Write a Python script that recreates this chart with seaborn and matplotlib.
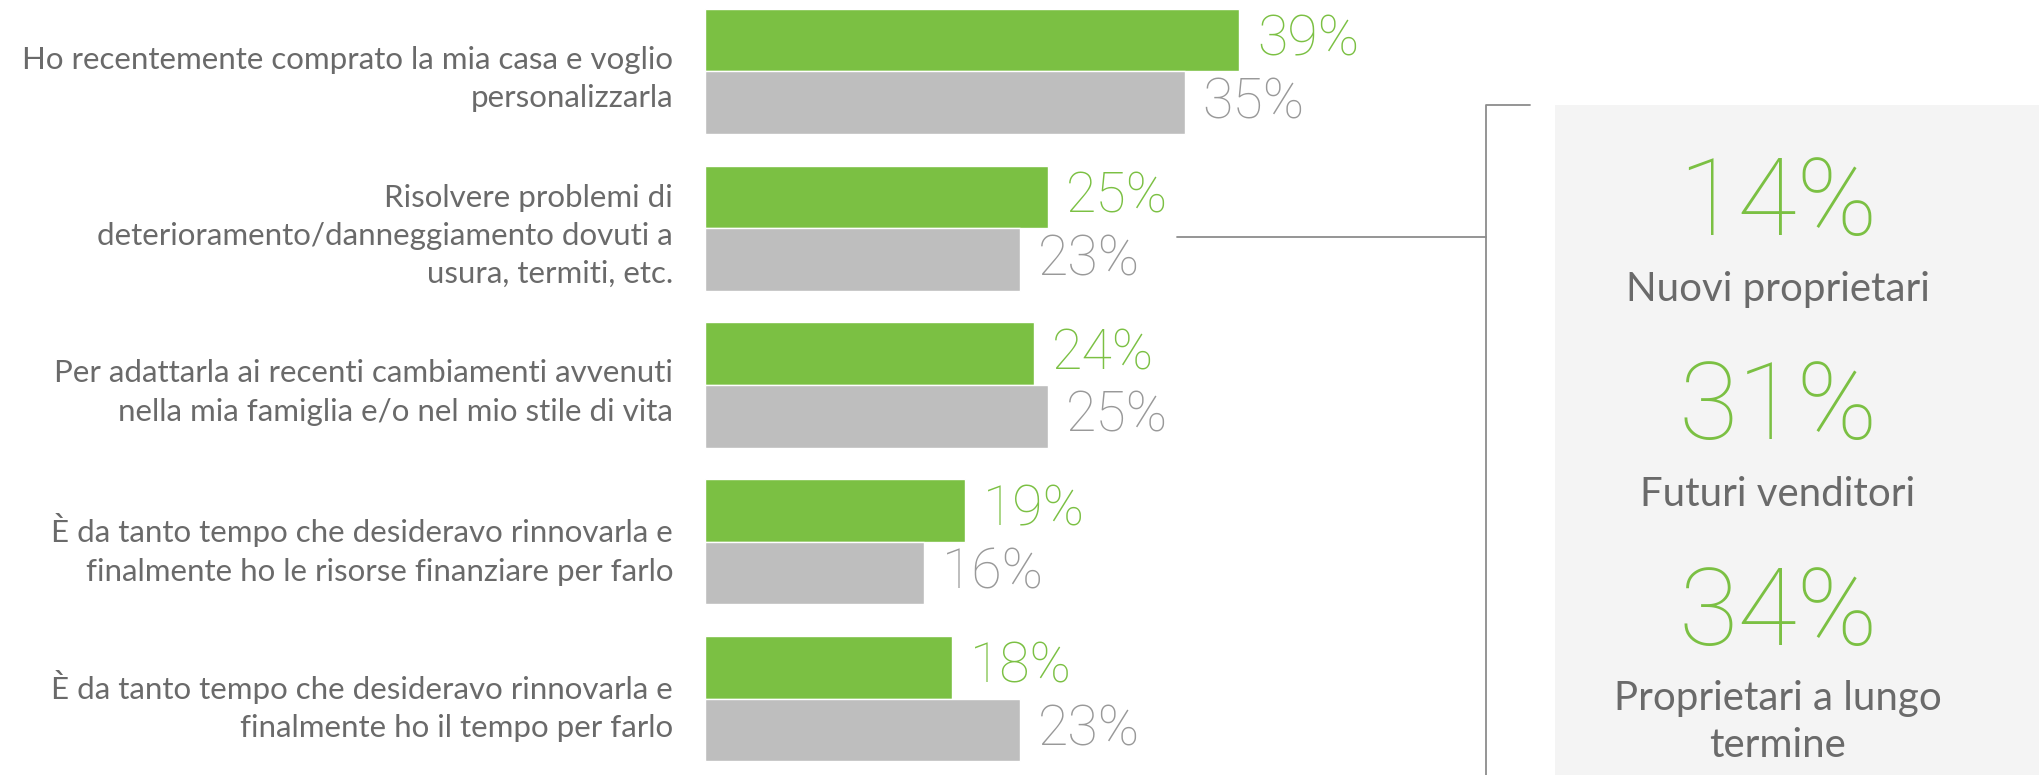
import matplotlib
matplotlib.use('Agg')
import matplotlib.pyplot as plt
from matplotlib.patches import Rectangle
import pandas as pd
import seaborn as sns

# data
categories = [
    'Ho recentemente comprato la mia casa e voglio\npersonalizzarla',
    'Risolvere problemi di\ndeterioramento/danneggiamento dovuti a\nusura, termiti, etc.',
    'Per adattarla ai recenti cambiamenti avvenuti\nnella mia famiglia e/o nel mio stile di vita',
    'È da tanto tempo che desideravo rinnovarla e\nfinalmente ho le risorse finanziare per farlo',
    'È da tanto tempo che desideravo rinnovarla e\nfinalmente ho il tempo per farlo',
]
green_vals = [39, 25, 24, 19, 18]
gray_vals = [35, 23, 25, 16, 23]
series = ['verde', 'grigio']
panel_values = ['14%', '31%', '34%']
panel_labels = ['Nuovi proprietari', 'Futuri venditori', 'Proprietari a lungo\ntermine']

GREEN = '#7bc043'
GRAY = '#bebebe'
GRAY_TXT = '#999999'
LABEL_TXT = '#6a6a6a'
LINE = '#8c8c8c'
NUM_FONT = ['Roboto', 'DejaVu Sans']

W, H = 2039, 775

df = pd.DataFrame({
    'categoria': categories * 2,
    'serie': [series[0]] * len(categories) + [series[1]] * len(categories),
    'valore': green_vals + gray_vals,
})

sns.set_theme(style='white')
plt.rcParams['font.family'] = ['Lato', 'DejaVu Sans']

fig = plt.figure(figsize=(W / 100, H / 100), dpi=100)

# background layer in pixel coordinates for the bracket and side panel
bg = fig.add_axes([0, 0, 1, 1])
bg.set_xlim(0, W)
bg.set_ylim(H, 0)
bg.axis('off')

x0, x1 = 705, 1486
ax = fig.add_axes([x0 / W, 0, (x1 - x0) / W, 1])
ax.patch.set_alpha(0)
sns.barplot(data=df, y='categoria', x='valore', hue='serie', orient='h',
            palette=[GREEN, GRAY], saturation=1, width=0.8, legend=False, ax=ax)

px_per_pct = 13.7
ax.set_xlim(0, (x1 - x0) / px_per_pct)
first, step = 71.5, 156.75
ax.set_ylim((H - first) / step, -first / step)

for cont, col in zip(ax.containers, [GREEN, GRAY_TXT]):
    ax.bar_label(cont, labels=[f'{int(v)}%' for v in cont.datavalues], padding=13,
                 color=col, fontsize=40, fontweight='light', family=NUM_FONT)

ax.set_xlabel('')
ax.set_ylabel('')
ax.set_xticks([])
ax.tick_params(axis='y', length=0, pad=23, labelsize=22.5, labelcolor=LABEL_TXT)
for lbl in ax.get_yticklabels():
    lbl.set_linespacing(1.45)
    lbl.set_multialignment('right')
sns.despine(ax=ax, left=True, bottom=True)

# side panel
bg.add_patch(Rectangle((1555, 105), W - 1555, H - 105, color='#f4f4f4', lw=0))
bg.plot([1177, 1486], [237, 237], color=LINE, lw=1.3)
bg.plot([1530, 1486, 1486], [105, 105, H], color=LINE, lw=1.3)

cx = 1778
for val, lab, yb, yl in zip(panel_values, panel_labels, [235, 439, 645], [289, 495, 722]):
    bg.text(cx, yb, val, ha='center', va='baseline', fontsize=78,
            color=GREEN, fontweight='light', family=NUM_FONT)
    bg.text(cx, yl, lab, ha='center', va='center', fontsize=29,
            color=LABEL_TXT, linespacing=1.33)

fig.savefig('out.png', dpi=100)
